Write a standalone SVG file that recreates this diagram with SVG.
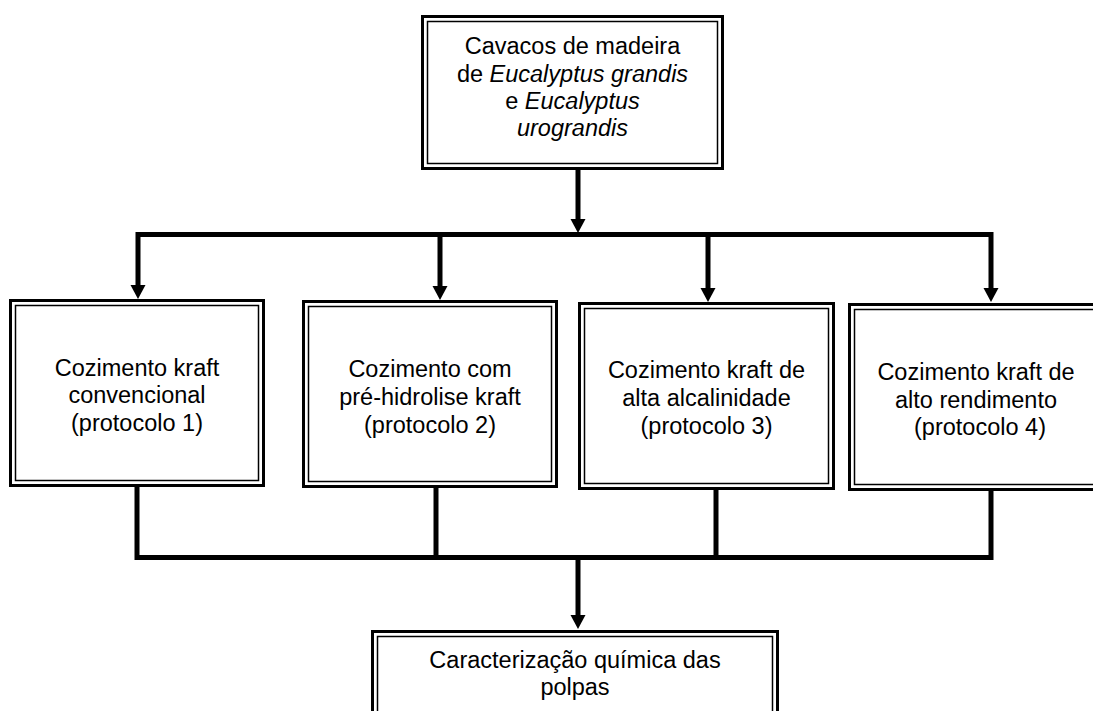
<svg xmlns="http://www.w3.org/2000/svg" width="1093" height="711" viewBox="0 0 1093 711">
<style>
.outer{fill:#fff;stroke:#000;stroke-width:3}
.inner{fill:none;stroke:#000;stroke-width:1.5}
.t{font-family:"Liberation Sans",Arial,sans-serif;font-size:23.5px;fill:#000;text-anchor:middle}
.i{font-style:italic}
.c{fill:none;stroke:#000;stroke-width:5;stroke-linejoin:miter}
.ah{fill:#000}
</style>
<rect width="1093" height="711" fill="#fff"/>
<g id="n_top">
<rect class="outer" x="422.5" y="16.5" width="300" height="152"/>
<rect class="inner" x="427.5" y="21.5" width="290" height="142"/>
<text class="t" x="572.5" y="54">Cavacos de madeira</text>
<text class="t" x="572.5" y="82">de <tspan class="i">Eucalyptus grandis</tspan></text>
<text class="t" x="572.5" y="109">e <tspan class="i">Eucalyptus</tspan></text>
<text class="t i" x="572.5" y="136">urograndis</text>
</g>
<g id="n_p1">
<rect class="outer" x="10.5" y="300.5" width="253" height="185"/>
<rect class="inner" x="15.5" y="305.5" width="243" height="175"/>
<text class="t" x="137" y="376">Cozimento kraft</text>
<text class="t" x="137" y="403">convencional</text>
<text class="t" x="137" y="431">(protocolo 1)</text>
</g>
<g id="n_p2">
<rect class="outer" x="303.5" y="301.5" width="253" height="185"/>
<rect class="inner" x="308.5" y="306.5" width="243" height="175"/>
<text class="t" x="430" y="377">Cozimento com</text>
<text class="t" x="430" y="405">pré-hidrolise kraft</text>
<text class="t" x="430" y="433">(protocolo 2)</text>
</g>
<g id="n_p3">
<rect class="outer" x="579.5" y="303.5" width="254" height="185"/>
<rect class="inner" x="584.5" y="308.5" width="244" height="175"/>
<text class="t" x="706.5" y="378">Cozimento kraft de</text>
<text class="t" x="706.5" y="406">alta alcalinidade</text>
<text class="t" x="706.5" y="434">(protocolo 3)</text>
</g>
<g id="n_p4">
<rect class="outer" x="849.5" y="304.5" width="256" height="185"/>
<rect class="inner" x="854.5" y="309.5" width="246" height="175"/>
<text class="t" x="976" y="380">Cozimento kraft de</text>
<text class="t" x="976" y="408">alto rendimento</text>
<text class="t" x="980" y="435">(protocolo 4)</text>
</g>
<g id="n_bottom">
<rect class="outer" x="372.5" y="631.5" width="405" height="100"/>
<rect class="inner" x="377.5" y="636.5" width="395" height="90"/>
<text class="t" x="575" y="668">Caracterização química das</text>
<text class="t" x="575" y="695">polpas</text>
</g>
<g id="connectors">
<path class="c" d="M578,170 V222"/>
<polygon class="ah" points="570.5,219 585.5,219 578,233"/>
<path class="c" d="M138,288 V234.5 H991 V290"/>
<polygon class="ah" points="130.5,285 145.5,285 138,299"/>
<polygon class="ah" points="983.5,288 998.5,288 991,302"/>
<path class="c" d="M440,234.5 V288"/>
<polygon class="ah" points="432.5,286 447.5,286 440,300"/>
<path class="c" d="M708,234.5 V290"/>
<polygon class="ah" points="700.5,288 715.5,288 708,302"/>
<path class="c" d="M137,487 V557.5 H991 V491"/>
<path class="c" d="M436,488 V557.5"/>
<path class="c" d="M716,490 V557.5"/>
<path class="c" d="M578,560 V618"/>
<polygon class="ah" points="570.5,615 585.5,615 578,629"/>
</g>
</svg>
